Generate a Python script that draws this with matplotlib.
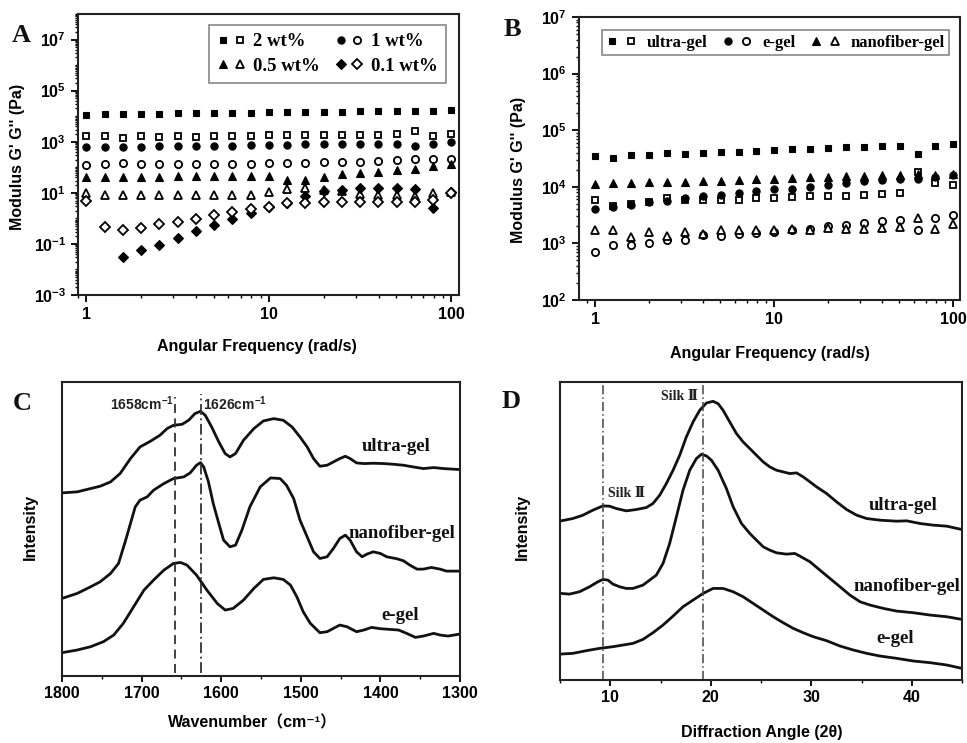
import numpy as np
import matplotlib
matplotlib.use("Agg")
import matplotlib.pyplot as plt
from matplotlib.ticker import LogLocator, FixedLocator, NullFormatter, FuncFormatter, MultipleLocator
from matplotlib.legend_handler import HandlerTuple

plt.rcParams['font.family'] = ['Liberation Sans', 'DejaVu Sans']
plt.rcParams['mathtext.fontset'] = 'custom'
plt.rcParams['mathtext.rm'] = 'Liberation Sans:bold'
plt.rcParams['mathtext.bf'] = 'Liberation Sans:bold'
plt.rcParams['mathtext.it'] = 'Liberation Sans:bold'

# ---------------- Panel A data ----------------
freq = [1, 1.26, 1.58, 2, 2.51, 3.16, 3.98, 5.01, 6.31, 7.94, 10,
        12.6, 15.8, 20, 25.1, 31.6, 39.8, 50.1, 63.1, 79.4, 100]
nan = np.nan
a_2wt_Gp = [11500, 11800, 12200, 12600, 12600, 13000, 13000, 13300, 13700, 13700, 14100,
            14600, 14600, 15000, 15000, 15500, 15500, 15900, 15900, 16400, 17000]
a_2wt_Gpp = [1720, 1720, 1390, 1620, 1480, 1620, 1530, 1720, 1720, 1720, 1770,
             1770, 1770, 1820, 1820, 1820, 1880, 1940, 2700, 1620, 2000]
a_1wt_Gp = [600, 637, 600, 637, 656, 676, 676, 697, 697, 718, 740,
            763, 786, 786, 810, 835, 835, 835, 697, 810, 942]
a_1wt_Gpp = [125, 129, 146, 129, 129, 133, 133, 133, 133, 137, 141,
             146, 150, 155, 160, 164, 175, 185, 209, 209, 215]
a_05wt_Gp = [39.9, 39.9, 41.1, 41.1, 42.4, 43.7, 43.7, 45.1, 46.4, 46.4, 43.7,
             30.5, 32.4, 41.1, 52.4, 59.0, 66.6, 77.4, 87.3, 114, 137]
a_05wt_Gpp = [10.0, 8.35, 8.35, 8.35, 8.35, 8.35, 8.35, 8.35, 8.35, 8.35, 10.3,
              13.9, 14.8, 12.4, 11.3, 8.87, 8.35, 8.1, 7.6, 9.7, 10.3]
a_01wt_Gp = [nan, nan, 0.031, 0.058, 0.091, 0.177, 0.314, 0.54, 0.955, 1.6, 2.74,
             4.06, 7.18, 11.3, 13.1, 15.2, 15.2, 14.8, 14.4, 2.58, 10.3]
a_01wt_Gpp = [4.86, 0.45, 0.354, 0.438, 0.608, 0.752, 0.955, 1.33, 1.75, 2.29, 2.82,
              4.06, 4.06, 4.31, 4.31, 4.31, 4.57, 4.57, 4.57, 5.31, 9.7]
a_labels = ["2 wt%", "1 wt%", "0.5 wt%", "0.1 wt%"]

# ---------------- Panel B data ----------------
b_ultra_Gp = [35000, 32700, 36500, 36500, 39100, 38000, 39600, 40700, 41800, 43500, 44200,
              46000, 47300, 49200, 49900, 50600, 52000, 53400, 38500, 52700, 57200]
b_ultra_Gpp = [5800, 4540, 4990, 5490, 6380, 5880, 5880, 5800, 5880, 6380, 6380,
               6560, 6830, 6740, 6830, 7310, 7510, 7820, 18200, 11500, 10600]
b_e_Gp = [4070, 4350, 4860, 5420, 5720, 6380, 6830, 7310, 7820, 8370, 8970,
          8970, 10000, 10700, 11800, 12600, 13100, 13900, 13500, 14900, 15900]
b_e_Gpp = [692, 934, 934, 1000, 1130, 1130, 1430, 1370, 1460, 1530, 1590,
           1750, 1800, 2000, 2110, 2260, 2460, 2630, 1750, 2860, 3180]
b_nano_Gp = [11000, 11500, 11800, 12100, 12100, 12400, 12600, 12900, 13300, 13500, 13900,
             14100, 14600, 15100, 15300, 15500, 15900, 16100, 16600, 16300, 17000]
b_nano_Gpp = [1700, 1700, 1300, 1590, 1370, 1590, 1450, 1700, 1750, 1750, 1750,
              1800, 1750, 1870, 1800, 1820, 1870, 1950, 2780, 1800, 2170]
b_labels = ["ultra-gel", "e-gel", "nanofiber-gel"]

# ---------------- Panel C data (FTIR) ----------------
c_ultra_w = [1800, 1781, 1764, 1752, 1739, 1727, 1714, 1702, 1689, 1677, 1668, 1660, 1649, 1641,
             1633, 1626, 1620, 1612, 1603, 1595, 1589, 1582, 1572, 1559, 1547, 1534, 1522, 1511,
             1501, 1492, 1484, 1476, 1467, 1459, 1451, 1444, 1438, 1430, 1421, 1409, 1396, 1384,
             1371, 1359, 1346, 1333, 1321, 1300]
c_ultra_i = [55.0, 55.3, 56.3, 57.0, 58.3, 60.8, 65.3, 68.8, 70.5, 72.3, 74.3, 75.3, 75.6, 76.8,
             78.8, 79.5, 78.3, 74.8, 70.3, 66.8, 65.8, 66.8, 70.8, 74.3, 76.6, 77.3, 76.8, 74.8,
             71.8, 68.8, 65.3, 63.0, 63.3, 64.3, 65.3, 66.0, 65.3, 64.0, 63.8, 63.9, 63.8, 63.6,
             63.3, 62.8, 62.3, 62.6, 62.3, 62.0]
c_nano_w = [1800, 1781, 1764, 1752, 1739, 1729, 1720, 1714, 1708, 1702, 1693, 1685, 1672, 1660,
            1647, 1639, 1631, 1626, 1622, 1616, 1610, 1603, 1597, 1589, 1582, 1574, 1564, 1551,
            1538, 1526, 1518, 1509, 1501, 1492, 1484, 1476, 1467, 1459, 1451, 1444, 1438, 1430,
            1423, 1417, 1409, 1400, 1392, 1379, 1371, 1363, 1354, 1346, 1336, 1325, 1317, 1300]
c_nano_i = [23.3, 24.8, 26.8, 28.3, 30.8, 33.8, 40.8, 45.8, 50.8, 52.8, 53.8, 55.8, 57.8, 59.3,
            59.8, 61.0, 63.3, 64.1, 62.8, 58.3, 51.8, 45.8, 40.8, 38.8, 39.3, 43.8, 50.8, 56.8,
            59.5, 59.3, 57.3, 53.3, 46.8, 41.8, 37.3, 35.3, 35.8, 38.3, 41.3, 42.3, 40.8, 37.3,
            35.8, 36.6, 37.3, 36.8, 35.8, 35.2, 34.6, 33.3, 32.1, 32.1, 32.6, 32.1, 31.5, 31.5]
c_e_w = [1800, 1781, 1764, 1748, 1735, 1723, 1710, 1697, 1685, 1672, 1660, 1651, 1643, 1631,
         1618, 1605, 1595, 1585, 1572, 1559, 1547, 1534, 1522, 1513, 1505, 1497, 1488, 1476,
         1467, 1459, 1451, 1442, 1430, 1421, 1411, 1400, 1388, 1377, 1367, 1356, 1346, 1333,
         1325, 1315, 1300]
c_e_i = [7.0, 7.8, 8.8, 10.3, 12.3, 15.8, 20.8, 25.8, 28.8, 31.8, 33.8, 34.1, 33.3, 30.3,
         25.8, 21.8, 19.8, 20.3, 22.8, 26.3, 29.0, 29.5, 29.0, 27.3, 23.8, 19.3, 15.8, 13.0,
         13.3, 14.3, 15.3, 14.8, 13.3, 13.8, 14.6, 14.2, 14.0, 13.8, 12.8, 11.6, 12.0, 12.8,
         12.3, 12.0, 12.6]
c_marks = [1658, 1626]

# ---------------- Panel D data (XRD) ----------------
d_ultra_a = [5.12, 6.28, 7.28, 8.27, 9.27, 9.93, 10.60, 11.59, 12.59, 13.59, 14.25, 14.92, 15.58,
             16.25, 16.91, 17.57, 18.24, 18.90, 19.57, 20.23, 20.73, 21.23, 21.89, 22.56, 23.22,
             23.89, 24.55, 25.22, 25.88, 26.54, 27.21, 27.87, 28.54, 29.20, 29.87, 30.53, 31.53,
             32.52, 33.52, 34.52, 35.51, 36.84, 38.50, 39.50, 40.83, 42.16, 43.49, 44.98]
d_ultra_i = [47.8, 48.5, 49.5, 51.0, 52.3, 52.2, 51.5, 50.8, 51.2, 51.8, 53.0, 55.5, 59.0,
             63.0, 67.5, 73.0, 77.5, 81.0, 83.2, 83.7, 83.0, 81.0, 77.5, 74.0, 71.5,
             69.5, 67.5, 65.5, 64.0, 63.0, 62.5, 62.0, 62.2, 61.0, 59.5, 58.0, 56.0,
             53.5, 51.2, 49.5, 48.5, 48.0, 47.7, 47.8, 47.0, 46.5, 46.2, 45.2]
d_nano_a = [5.12, 5.95, 6.94, 7.94, 8.77, 9.27, 9.77, 10.27, 10.93, 11.59, 12.26, 13.26, 13.92,
            14.58, 15.25, 15.91, 16.58, 17.24, 17.91, 18.57, 19.07, 19.57, 20.07, 20.73, 21.56,
            22.23, 23.06, 23.89, 24.55, 25.22, 25.88, 26.54, 27.54, 28.37, 28.87, 29.87, 30.86,
            31.86, 32.86, 33.85, 34.85, 35.85, 37.18, 38.50, 40.17, 41.83, 43.49, 44.98]
d_nano_i = [26.0, 25.8, 26.5, 28.0, 29.5, 30.2, 30.0, 28.8, 28.0, 27.5, 27.5, 28.5, 30.0,
            31.5, 35.0, 41.0, 49.0, 57.0, 63.0, 66.5, 67.8, 67.3, 66.0, 63.0, 57.5,
            52.0, 47.0, 44.0, 42.0, 40.0, 39.0, 38.2, 37.8, 38.0, 37.2, 35.5, 33.0,
            30.5, 28.0, 25.5, 23.5, 22.5, 21.5, 20.7, 20.2, 19.5, 19.0, 18.2]
d_e_a = [5.12, 6.28, 7.61, 8.94, 10.27, 11.26, 12.26, 13.26, 14.25, 15.25, 16.25, 17.24, 18.24,
         19.24, 20.23, 21.23, 22.23, 23.22, 24.22, 25.22, 26.21, 27.21, 28.21, 29.20, 30.20,
         31.53, 32.86, 34.19, 35.51, 36.84, 38.50, 40.17, 41.83, 43.49, 44.98]
d_e_i = [7.8, 8.0, 8.8, 9.5, 10.0, 10.5, 11.0, 12.2, 14.2, 16.5, 19.2, 22.0, 24.0,
         26.0, 27.5, 27.5, 26.5, 25.0, 23.0, 21.0, 19.0, 17.2, 15.5, 14.2, 13.0,
         11.8, 10.2, 9.0, 8.0, 7.2, 6.5, 5.7, 5.2, 4.5, 3.5]
d_marks = [9.3, 19.2]

# ---------------- Figure ----------------
W, H = 967, 743
fig = plt.figure(figsize=(W / 100, H / 100), dpi=100)

def fbox(l, t, r, b):
    return [l / W, 1 - b / H, (r - l) / W, (b - t) / H]

axA = fig.add_axes(fbox(78, 14, 459, 295))
axB = fig.add_axes(fbox(579, 17, 960, 300))
axC = fig.add_axes(fbox(62, 382, 460, 676))
axD = fig.add_axes(fbox(560, 382, 962, 680))

labfont = dict(family=['Liberation Sans', 'DejaVu Sans'], weight='bold', size=11.5)
serif_b = ['Liberation Serif', 'DejaVu Serif']

for ax in (axA, axB, axC, axD):
    for s in ax.spines.values():
        s.set_linewidth(1.5)
        s.set_color('#222222')

def pow_fmt(v, pos):
    if v <= 0:
        return ''
    e = int(round(np.log10(v)))
    return r'$\mathbf{10^{%d}}$' % e

mew = 1.3

def style_loglog(ax, ymin, ymax, ymajors):
    ax.set_xscale('log')
    ax.set_yscale('log')
    ax.set_ylim(ymin, ymax)
    ax.yaxis.set_major_locator(FixedLocator(ymajors))
    ax.yaxis.set_minor_locator(LogLocator(base=10, subs=np.arange(1, 10), numticks=50))
    ax.yaxis.set_major_formatter(FuncFormatter(pow_fmt))
    ax.yaxis.set_minor_formatter(NullFormatter())
    ax.xaxis.set_major_locator(FixedLocator([1, 10, 100]))
    ax.xaxis.set_major_formatter(FuncFormatter(lambda v, p: '%d' % v))
    ax.xaxis.set_minor_locator(LogLocator(base=10, subs=np.arange(2, 10), numticks=50))
    ax.xaxis.set_minor_formatter(NullFormatter())
    ax.tick_params(which='major', direction='out', length=5, width=1.3, labelsize=11.5)
    ax.tick_params(which='minor', direction='out', length=2.5, width=1.0)
    for lab in ax.get_xticklabels() + ax.get_yticklabels():
        lab.set_fontweight('bold')

# ---- Panel A ----
markersA = ['s', 'o', '^', 'D']
sizesA = [4.8, 5.2, 5.8, 4.8]
seriesA = [(a_2wt_Gp, a_2wt_Gpp), (a_1wt_Gp, a_1wt_Gpp),
           (a_05wt_Gp, a_05wt_Gpp), (a_01wt_Gp, a_01wt_Gpp)]
handlesA = []
for (gp, gpp), m, s in zip(seriesA, markersA, sizesA):
    h1, = axA.plot(freq, gp, ls='none', marker=m, ms=s, mfc='black', mec='black', mew=0.8)
    h2, = axA.plot(freq, gpp, ls='none', marker=m, ms=s, mfc='white', mec='black', mew=mew)
    handlesA.append((h1, h2))
axA.set_xlim(0.9, 110)
style_loglog(axA, 1e-3, 1e8, [1e-3, 1e-1, 1e1, 1e3, 1e5, 1e7])
order = [0, 2, 1, 3]
legA = axA.legend([handlesA[i] for i in order], [a_labels[i] for i in order],
                  handler_map={tuple: HandlerTuple(ndivide=None, pad=0.25)},
                  ncol=2, loc='upper right', bbox_to_anchor=(0.99, 0.995),
                  prop=dict(family=serif_b, weight='bold', size=13.5),
                  frameon=True, fancybox=False, edgecolor='#888888', framealpha=1,
                  handlelength=1.5, handletextpad=0.4, columnspacing=0.8,
                  borderpad=0.45, labelspacing=0.4)
legA.get_frame().set_linewidth(1.2)

# ---- Panel B ----
markersB = ['s', 'o', '^']
sizesB = [4.8, 5.2, 5.8]
seriesB = [(b_ultra_Gp, b_ultra_Gpp), (b_e_Gp, b_e_Gpp), (b_nano_Gp, b_nano_Gpp)]
handlesB = []
for (gp, gpp), m, s in zip(seriesB, markersB, sizesB):
    h1, = axB.plot(freq, gp, ls='none', marker=m, ms=s, mfc='black', mec='black', mew=0.8)
    h2, = axB.plot(freq, gpp, ls='none', marker=m, ms=s, mfc='white', mec='black', mew=mew)
    handlesB.append((h1, h2))
axB.set_xlim(0.81, 109)
style_loglog(axB, 1e2, 1e7, [1e2, 1e3, 1e4, 1e5, 1e6, 1e7])
legB = axB.legend(handlesB, b_labels,
                  handler_map={tuple: HandlerTuple(ndivide=None, pad=0.4)},
                  ncol=3, loc='upper right', bbox_to_anchor=(0.993, 0.982),
                  prop=dict(family=serif_b, weight='bold', size=12),
                  frameon=True, fancybox=False, edgecolor='#888888', framealpha=1,
                  handlelength=1.8, handletextpad=0.6, columnspacing=0.9,
                  borderpad=0.25)
legB.get_frame().set_linewidth(1.2)

# ---- Panel C ----
lw = 2.0
axC.plot(c_ultra_w, c_ultra_i, color='#111111', lw=lw)
axC.plot(c_nano_w, c_nano_i, color='#111111', lw=lw)
axC.plot(c_e_w, c_e_i, color='#111111', lw=lw)
axC.set_xlim(1800, 1300)
axC.set_ylim(0, 88.3)
axC.axvline(c_marks[0], ymin=0.01, ymax=0.95, color='#333333', ls=(0, (5, 3)), lw=1.3)
axC.axvline(c_marks[1], ymin=0.01, ymax=0.96, color='#333333', ls=(0, (6, 2, 1, 2)), lw=1.3)
axC.text(c_marks[0] + 1, 81.8, r'1658cm$^{\mathbf{-1}}$', ha='right', va='center',
         fontsize=10, fontweight='bold', color='#222222')
axC.text(c_marks[1] - 3, 81.8, r'1626cm$^{\mathbf{-1}}$', ha='left', va='center',
         fontsize=10, fontweight='bold', color='#222222')
axC.xaxis.set_major_locator(FixedLocator([1800, 1700, 1600, 1500, 1400, 1300]))
axC.xaxis.set_minor_locator(MultipleLocator(50))
axC.set_yticks([])
axC.tick_params(axis='x', which='major', direction='out', length=4, width=1.3, labelsize=11.5)
axC.tick_params(axis='x', which='minor', direction='out', length=2.5, width=1.0)
for lab in axC.get_xticklabels():
    lab.set_fontweight('bold')
cl = dict(family=serif_b, weight='bold', size=13.5, color='#111111', ha='center', va='center')
axC.text(1380, 68.8, 'ultra-gel', **cl)
axC.text(1373, 42.8, 'nanofiber-gel', **cl)
axC.text(1375, 18.3, 'e-gel', **cl)

# ---- Panel D ----
axD.plot(d_ultra_a, d_ultra_i, color='#111111', lw=lw)
axD.plot(d_nano_a, d_nano_i, color='#111111', lw=lw)
axD.plot(d_e_a, d_e_i, color='#111111', lw=lw)
axD.set_xlim(5, 45)
axD.set_ylim(0, 89.5)
for m in d_marks:
    axD.axvline(m, ymin=0.0, ymax=1.0, color='#444444', ls=(0, (6, 2, 1, 2)), lw=1.1)
dl = dict(family=serif_b, weight='bold', size=10, color='#222222', ha='center', va='center')
axD.text(11.6, 56.0, 'Silk Ⅱ', **dl)
axD.text(16.9, 85.0, 'Silk Ⅱ', **dl)
axD.xaxis.set_major_locator(FixedLocator([10, 20, 30, 40]))
axD.xaxis.set_minor_locator(FixedLocator([5, 15, 25, 35, 45]))
axD.set_yticks([])
axD.tick_params(axis='x', which='major', direction='out', length=4, width=1.3, labelsize=11.5)
axD.tick_params(axis='x', which='minor', direction='out', length=2.5, width=1.0)
for lab in axD.get_xticklabels():
    lab.set_fontweight('bold')
axD.text(39.1, 52.5, 'ultra-gel', **cl)
axD.text(39.5, 28.0, 'nanofiber-gel', **cl)
axD.text(38.4, 12.5, 'e-gel', **cl)

# ---- Axis labels (figure coordinates) ----
def ftext(x, y, s, **kw):
    fig.text(x / W, 1 - y / H, s, **kw)

ftext(257, 347, 'Angular Frequency (rad/s)', ha='center', va='center', **labfont)
ftext(770, 353, 'Angular Frequency (rad/s)', ha='center', va='center', **labfont)
ftext(253, 723, 'Wavenumber（cm⁻¹）', ha='center', va='center',
      family=['Liberation Sans', 'DejaVu Sans', 'Noto Sans CJK SC'], weight='bold', size=11.5)
ftext(762, 733, 'Diffraction Angle (2θ)', ha='center', va='center', **labfont)
ftext(18, 157, "Modulus G' G'' (Pa)", ha='center', va='center', rotation=90, **labfont)
ftext(518, 170, "Modulus G' G'' (Pa)", ha='center', va='center', rotation=90, **labfont)
ftext(30, 527, 'Intensity', ha='center', va='center', rotation=90, **labfont)
ftext(522, 527, 'Intensity', ha='center', va='center', rotation=90, **labfont)

pl = dict(family=serif_b, weight='bold', size=19, ha='center', va='center', color='#111111')
ftext(21, 35, 'A', **pl)
ftext(512, 29, 'B', **pl)
ftext(22, 403, 'C', **pl)
ftext(511, 401, 'D', **pl)

fig.savefig('out.png', dpi=100)
